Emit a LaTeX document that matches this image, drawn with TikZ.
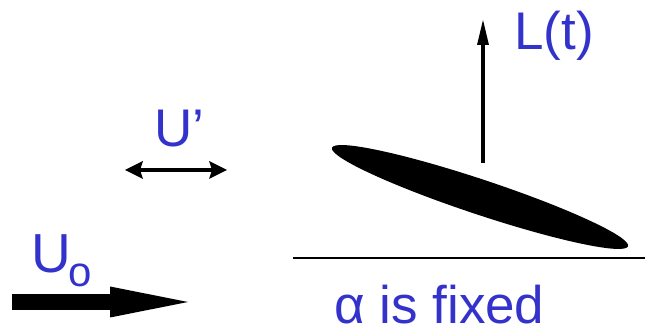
\documentclass[tikz,border=0pt]{standalone}
\usepackage{fontspec}
\setmainfont{Liberation Sans}
\usetikzlibrary{arrows.meta}
\definecolor{lblue}{RGB}{51,51,204}
\tikzset{
  lbl/.style={text=lblue, inner sep=0pt, anchor=base west, font=\fontsize{53}{60}\selectfont},
  flow/.style={line width=16pt, -{Triangle[length=78pt,width=31pt,line width=0pt]}},
  gust/.style={line width=4pt, {Stealth[length=18pt,width=18pt,inset=3pt,line width=0pt]}-{Stealth[length=18pt,width=18pt,inset=3pt,line width=0pt]}},
  lift/.style={line width=4pt, -{Triangle[length=25pt,width=12pt,line width=0pt]}}
}
\begin{document}
\begin{tikzpicture}[x=1pt,y=1pt]
\useasboundingbox (0,0) rectangle (645,331);
% free stream
\coordinate (u0s) at (12,29);
\coordinate (u0e) at (188,29);
\draw[flow] (u0s) -- (u0e);
\node[lbl, font=\fontsize{55}{60}\selectfont] (U) at (31,58) {U};
\node[lbl, font=\fontsize{42}{50}\selectfont] (Usub) at (68,44) {o};
% gust
\coordinate (gl) at (125,161);
\coordinate (gr) at (227,161);
\draw[gust] (gl) -- (gr);
\node[lbl] (Up) at (154,184) {U’};
% airfoil
\fill[rotate around={-18.4:(480,134)}] (480,134) ellipse [x radius=156, y radius=17.5];
% lift
\coordinate (lb) at (483,168);
\coordinate (lt) at (483,311);
\draw[lift] (lb) -- (lt);
\node[lbl] (L) at (514,281) {L(t)};
% ground line
\coordinate (h1) at (293,73);
\coordinate (h2) at (645,73);
\draw[line width=2pt] (h1) -- (h2);
\node[lbl] (alpha) at (334,7) {α is fixed};
\end{tikzpicture}
\end{document}
